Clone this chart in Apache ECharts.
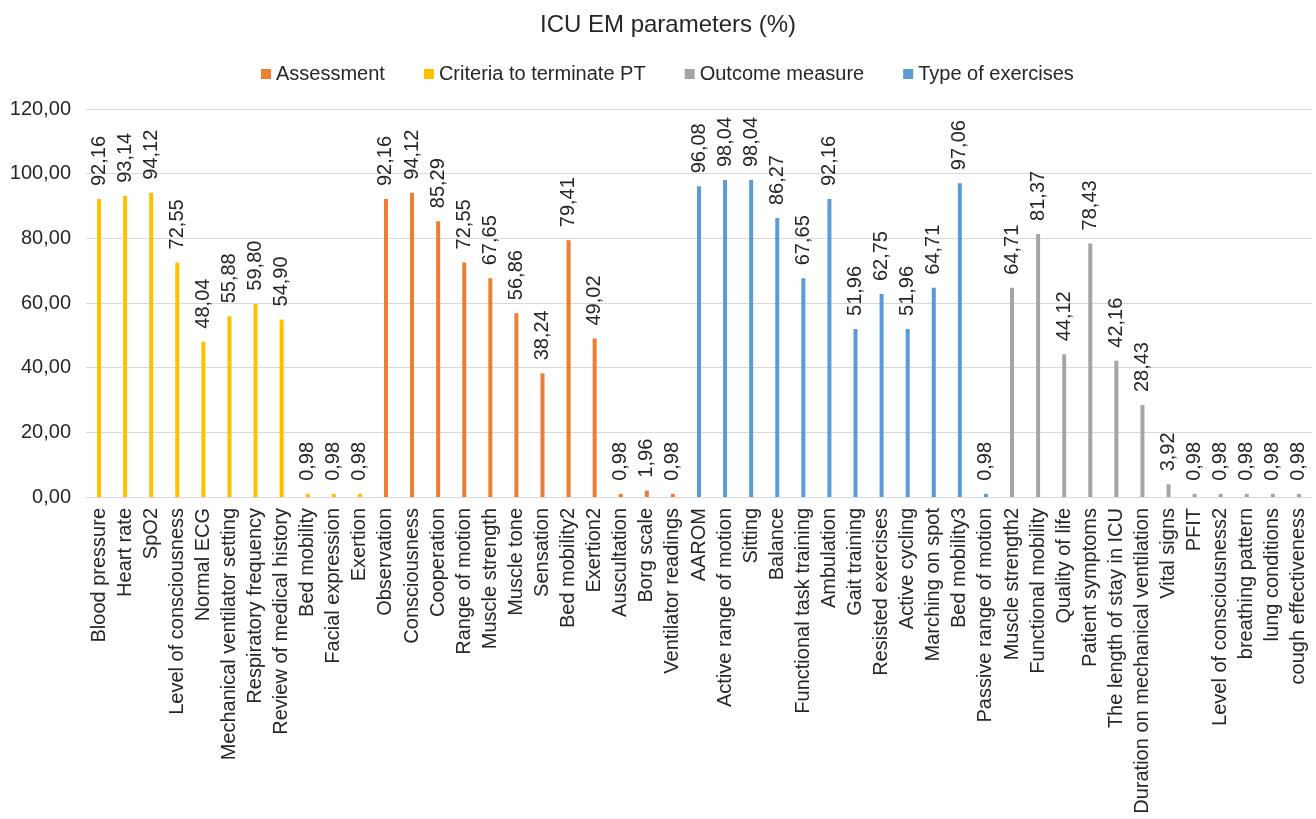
<!DOCTYPE html>
<html>
<head>
<meta charset="utf-8">
<script src="https://cdn.jsdelivr.net/npm/echarts@6/dist/echarts.min.js"></script>
<style>
  html, body { margin: 0; padding: 0; background: #fff; }
  #chart { width: 1316px; height: 819px; }
</style>
</head>
<body>
<div id="chart"></div>
<script>
// series names, in legend order
const seriesNames = ["Assessment", "Criteria to terminate PT", "Outcome measure", "Type of exercises"];
const seriesColors = ["#ED7D31", "#FFC000", "#A5A5A5", "#5B9BD5"];

const categories = [
  "Blood pressure", "Heart rate", "SpO2", "Level of consciousness", "Normal ECG",
  "Mechanical ventilator setting", "Respiratory frequency", "Review of medical history",
  "Bed mobility", "Facial expression", "Exertion",
  "Observation", "Consciousness", "Cooperation", "Range of motion", "Muscle strength",
  "Muscle tone", "Sensation", "Bed mobility2", "Exertion2", "Auscultation", "Borg scale",
  "Ventilator readings",
  "AAROM", "Active range of motion", "Sitting", "Balance", "Functional task training",
  "Ambulation", "Gait training", "Resisted exercises", "Active cycling", "Marching on spot",
  "Bed mobility3", "Passive range of motion",
  "Muscle strength2", "Functional mobility", "Quality of life", "Patient symptoms",
  "The length of stay in ICU", "Duration on mechanical ventilation", "Vital signs", "PFIT",
  "Level of consciousness2", "breathing pattern", "lung conditions", "cough effectiveness"
];

const values = [
  92.16, 93.14, 94.12, 72.55, 48.04, 55.88, 59.80, 54.90, 0.98, 0.98, 0.98,
  92.16, 94.12, 85.29, 72.55, 67.65, 56.86, 38.24, 79.41, 49.02, 0.98, 1.96, 0.98,
  96.08, 98.04, 98.04, 86.27, 67.65, 92.16, 51.96, 62.75, 51.96, 64.71, 97.06, 0.98,
  64.71, 81.37, 44.12, 78.43, 42.16, 28.43, 3.92, 0.98, 0.98, 0.98, 0.98, 0.98
];

// which series (index into seriesNames) each category belongs to
const groups = [
  1, 1, 1, 1, 1, 1, 1, 1, 1, 1, 1,
  0, 0, 0, 0, 0, 0, 0, 0, 0, 0, 0, 0,
  3, 3, 3, 3, 3, 3, 3, 3, 3, 3, 3, 3,
  2, 2, 2, 2, 2, 2, 2, 2, 2, 2, 2, 2
];

const yTicks = { min: 0, max: 120, interval: 20 };

const fmt = (v) => Number(v).toFixed(2).replace(".", ",");
const font = "'Liberation Sans', Arial, Helvetica, sans-serif";
const textColor = "#262626";

const series = seriesNames.map((name, s) => ({
  name: name,
  type: "bar",
  barWidth: 4,
  barGap: "-100%",
  data: values.map((v, i) => (groups[i] === s ? v : "-")),
  itemStyle: { color: seriesColors[s] },
  label: {
    show: true,
    position: "top",
    rotate: 90,
    align: "left",
    verticalAlign: "middle",
    distance: 13,
    fontFamily: font,
    fontSize: 20,
    color: textColor,
    formatter: (p) => fmt(p.value),
  },
}));

const chart = echarts.init(document.getElementById("chart"));
chart.setOption({
  animation: false,
  backgroundColor: "#fff",
  title: {
    text: "ICU EM parameters (%)",
    left: 663,
    textAlign: "center",
    top: 8,
    textStyle: { fontFamily: font, fontSize: 24, fontWeight: "normal", color: textColor },
  },
  legend: {
    data: seriesNames,
    left: 256,
    top: 59,
    itemWidth: 10,
    itemHeight: 10,
    itemGap: 39,
    icon: "rect",
    textStyle: { fontFamily: font, fontSize: 20, color: textColor },
  },
  grid: {
    left: 86,
    right: 4,
    top: 109,
    bottom: 819 - 497,
    containLabel: false,
  },
  xAxis: {
    type: "category",
    data: categories,
    axisTick: { show: false },
    axisLine: { lineStyle: { color: "#d9d9d9", width: 1 } },
    axisLabel: {
      interval: 0,
      rotate: 90,
      margin: 11,
      fontFamily: font,
      fontSize: 20,
      color: textColor,
    },
  },
  yAxis: {
    type: "value",
    min: yTicks.min,
    max: yTicks.max,
    interval: yTicks.interval,
    axisLine: { show: false },
    axisTick: { show: false },
    splitLine: { lineStyle: { color: "#d9d9d9", width: 1 } },
    axisLabel: {
      margin: 15,
      fontFamily: font,
      fontSize: 20,
      color: textColor,
      formatter: (v) => fmt(v),
    },
  },
  series: series,
});
</script>
</body>
</html>
